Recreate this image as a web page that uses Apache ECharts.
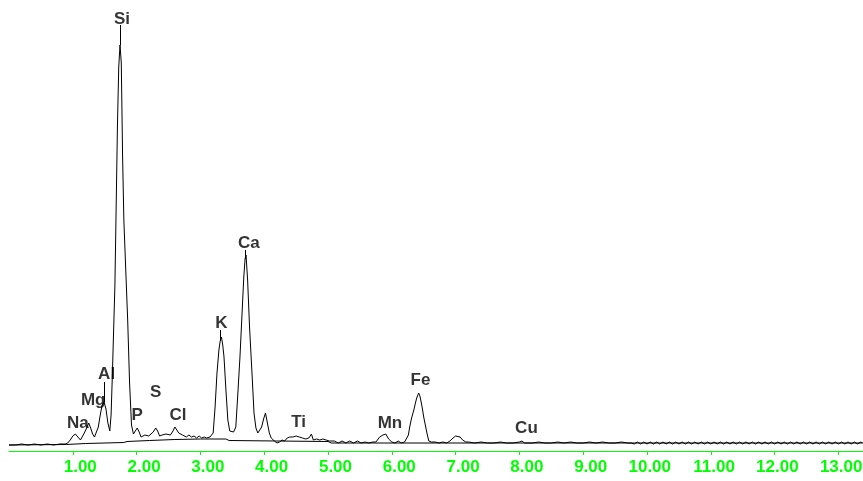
<!DOCTYPE html>
<html><head><meta charset="utf-8">
<script src="https://cdn.jsdelivr.net/npm/echarts@6/dist/echarts.min.js"></script>
<style>html,body{margin:0;padding:0;background:#fff}#c{width:863px;height:481px}</style>
</head><body><div id="c"></div>
<script>
// Spectrum (energy in keV, counts)
const energy = [
0.00,0.10,0.20,0.30,0.40,0.50,0.60,0.70,0.80,0.88,0.92,0.96,
1.00,1.04,1.08,1.12,1.15,1.18,1.21,1.25,1.28,1.31,1.34,1.37,1.40,1.43,1.46,1.49,1.52,1.55,1.58,
1.60,1.62,1.64,1.66,1.68,1.70,1.72,1.74,1.76,1.78,1.80,1.83,1.86,1.89,1.92,
1.95,1.98,2.01,2.04,2.07,2.10,2.13,2.16,2.19,2.22,2.26,2.30,2.33,2.36,2.40,2.43,2.46,2.49,2.53,2.57,2.60,2.63,2.66,2.69,2.72,2.75,2.78,2.82,2.86,2.90,2.94,2.98,3.02,3.06,3.10,
3.15,3.20,3.23,3.26,3.29,3.31,3.33,3.35,3.37,3.40,3.43,3.46,3.48,
3.52,3.555,3.59,3.62,3.65,3.68,3.70,3.715,3.74,3.77,3.81,3.84,3.87,3.90,
3.93,3.96,3.99,4.02,4.05,4.08,4.11,4.16,
4.20,4.24,4.28,4.32,4.36,4.40,4.45,4.50,4.55,4.60,4.65,4.70,4.74,4.77,4.82,4.87,4.92,4.97,5.02,
5.04,5.10,5.16,5.22,5.28,5.34,5.40,5.46,5.52,5.58,5.64,5.70,5.75,5.81,5.86,5.905,5.95,6.00,6.05,6.10,6.15,
6.20,6.23,6.26,6.28,6.31,6.345,6.37,6.39,6.42,6.44,6.46,6.48,6.50,6.525,6.55,6.58,6.62,
6.68,6.74,6.80,6.86,6.91,6.96,7.00,7.03,7.07,7.11,7.16,
7.20,7.30,7.40,7.50,7.60,7.70,7.80,7.90,8.00,8.04,8.08,8.20,8.30,8.40,8.50,8.60,8.70,8.80,8.90,9.00,9.10,9.20,9.30,9.40,9.50,9.60,9.70,
9.75,9.80,9.85,9.90,9.95,10.00,10.05,10.10,10.15,10.20,10.25,10.30,10.35,10.40,10.45,10.50,10.55,10.60,10.65,10.70,10.75,10.80,10.85,10.90,10.95,
11.00,11.05,11.10,11.15,11.20,11.25,11.30,11.35,11.40,11.45,11.50,11.55,11.60,11.65,11.70,11.75,11.80,11.85,11.90,11.95,
12.00,12.05,12.10,12.15,12.20,12.25,12.30,12.35,12.40,12.45,12.50,12.55,12.60,12.65,12.70,12.75,12.80,12.85,12.90,12.95,
13.00,13.05,13.10,13.15,13.20,13.25,13.30,13.35,13.38
];
const counts = [
0,0,1,0,1,0,1,0,1,1,2,5,
9,11,8,5,7,12,16,22,17,11,8,10,18,30,40,43,36,22,14,
30,70,115,160,240,320,378,400,382,290,225,175,125,62,20,
11,14,17,13,8,7,10,12,9,11,13,17,14,9,10,8,11,9,10,14,18,16,12,13,10,11,8,10,8,9,7,9,7,8,7,
8,12,38,72,95,104,108,100,88,55,25,14,12,
13,18,55,88,128,168,186,190,165,118,70,32,17,12,
13,18,26,32,22,12,7,4,
2,3,5,4,7,8,8,9,8,7,6,7,11,5,6,5,6,5,4,
2,4,2,4,2,4,2,4,2,3,2,3,3,8,10,11,6,3,2,4,2,
3,4,10,18,27,35,42,47,52,49,43,36,28,20,12,4,3,
3,2,3,2,4,7,9,10,8,5,3,
3,2,3,2,2,3,2,2,3,4,2,2,3,2,2,3,2,3,2,2,3,2,3,2,2,3,2,
2,1,3,1,3,1,3,1,3,1,3,1,3,1,3,1,3,1,3,1,3,1,3,1,3,
1,3,1,3,1,3,1,3,1,3,1,3,1,3,1,3,1,3,1,3,
1,3,1,3,1,3,1,3,1,3,1,3,1,3,1,3,1,3,1,3,
1,3,1,3,1,3,1,3,2
];
// Background (continuum) line
const bgEnergy = [0.00,0.90,1.20,1.80,1.85,2.20,2.60,3.00,3.40,3.45,4.20,5.00,5.05,13.38];
const bgCounts = [0,0.5,1.5,2.5,3.5,4.5,5.5,6,6,4.5,4,3.5,2,2];
// Element labels
const peakNames  = ['Na','Mg','Al','Si','P','S','Cl','K','Ca','Ti','Mn','Fe','Cu'];
const peakLabelE = [1.08,1.32,1.53,1.77,2.01,2.30,2.65,3.33,3.76,4.54,5.97,6.45,8.11];
const peakLabelC = [22,45,71,426,30,53,30,122,202,23,22,65,17];
// Marker lines from peak top up to label
const markerE    = [1.74,1.49,3.31,3.70];
const markerFrom = [400,43,104,186];
const markerTo   = [420,63,115,195];
// Axis ticks
const xMin = 0, xMax = 13.385, xStep = 1;

const spectrum = energy.map((e,i)=>[e,counts[i]]);
const background = bgEnergy.map((e,i)=>[e,bgCounts[i]]);
const labels = peakLabelE.map((e,i)=>[e,peakLabelC[i]]);
const markers = markerE.map((e,i)=>[{coord:[e,markerFrom[i]]},{coord:[e,markerTo[i]]}]);

const chart = echarts.init(document.getElementById('c'));
chart.setOption({
  animation:false,
  backgroundColor:'#ffffff',
  grid:{left:9,right:0,top:0,bottom:30,containLabel:false,outerBoundsMode:'none'},
  xAxis:{type:'value',min:xMin,max:xMax,interval:xStep,
    axisLine:{onZero:false,lineStyle:{color:'#00ff00',width:1}},
    axisTick:{show:true,length:4,lineStyle:{color:'#00ff00'}},
    splitLine:{show:false},
    axisLabel:{margin:8,showMaxLabel:false,showMinLabel:false,hideOverlap:false,
      formatter:v=> (v===0 || Math.abs(v-Math.round(v))>1e-6) ? '' : '{t|'+v.toFixed(2)+'}',
      rich:{t:{width:48,align:'right',color:'#00ff00',fontWeight:'bold',fontSize:17,fontFamily:'Liberation Sans, Arial, sans-serif'}}}
  },
  yAxis:{type:'value',min:-6,max:445,show:false,splitLine:{show:false}},
  series:[
    {type:'line',data:background,showSymbol:false,symbol:'none',lineStyle:{color:'#000',width:1},z:2},
    {type:'line',data:spectrum,showSymbol:false,symbol:'none',lineStyle:{color:'#000',width:1},z:3,
      markLine:{silent:true,symbol:['none','none'],label:{show:false},lineStyle:{color:'#000',width:1,type:'solid'},data:markers}},
    {type:'scatter',data:labels,symbolSize:1,itemStyle:{color:'rgba(0,0,0,0)'},z:5,
      label:{show:true,position:'inside',formatter:p=>peakNames[p.dataIndex],color:'#000',fontWeight:'bold',fontSize:17,fontFamily:'Liberation Sans, Arial, sans-serif'}}
  ]
});
</script></body></html>
